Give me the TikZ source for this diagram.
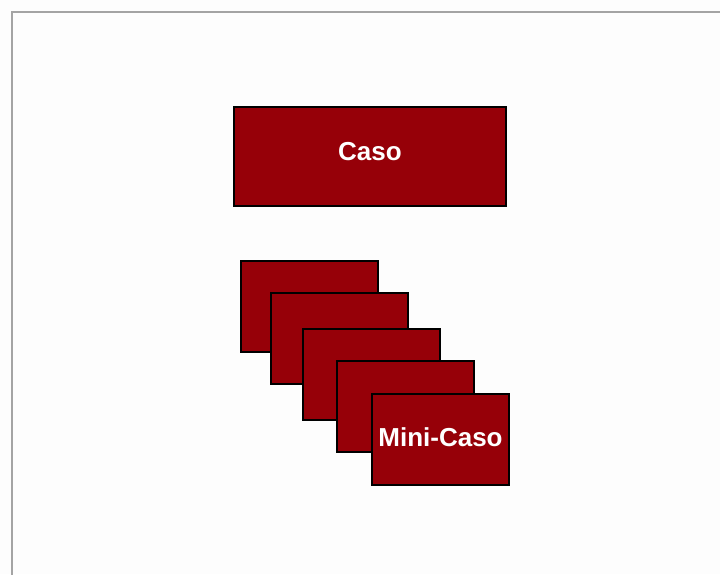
\documentclass[tikz,border=0pt]{standalone}
\usepackage{fontspec}
\setmainfont{Liberation Sans}
\definecolor{boxred}{RGB}{150,0,8}
\definecolor{framegray}{RGB}{164,164,164}
\definecolor{bgwhite}{RGB}{253,253,253}
\begin{document}
\begin{tikzpicture}[x=1pt,y=-1pt,
  redbox/.style={draw=black,line width=2pt,fill=boxred,text=white,
    font=\fontsize{26}{28}\selectfont\bfseries,inner sep=0pt,anchor=north west},
  cardbox/.style={redbox,minimum width=137pt,minimum height=91pt}]
\useasboundingbox (0,0) rectangle (720,574);
\fill[bgwhite] (0,0) rectangle (720,574);
\draw[framegray,line width=2.2pt] (12,580) -- (12,12) -- (730,12);
\node[redbox,minimum width=272pt,minimum height=99pt] (caso) at (233,106) {\raisebox{10pt}{Caso}};
\node[cardbox] (m1) at (240,260) {};
\node[cardbox] (m2) at (270,292) {};
\node[cardbox] (m3) at (302,328) {};
\node[cardbox] (m4) at (336,360) {};
\node[cardbox] (m5) at (371,393) {\raisebox{5pt}{Mini-Caso}};
\end{tikzpicture}
\end{document}
